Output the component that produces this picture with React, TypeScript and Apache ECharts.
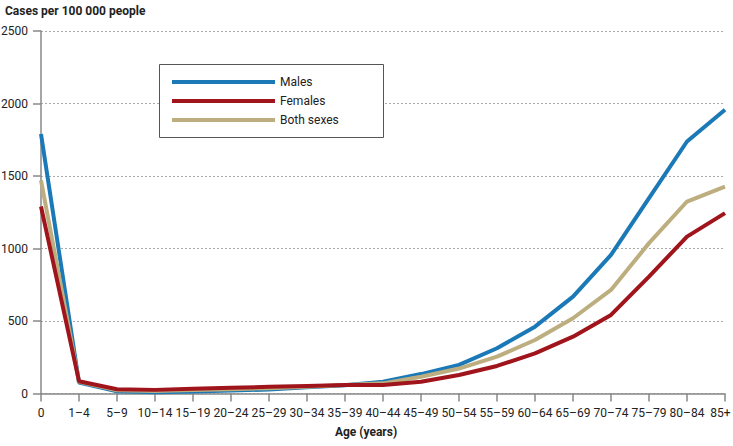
import React, { useEffect, useRef } from "react";
import * as echarts from "echarts";

const categories = ["0", "1–4", "5–9", "10–14", "15–19", "20–24", "25–29", "30–34", "35–39", "40–44", "45–49", "50–54", "55–59", "60–64", "65–69", "70–74", "75–79", "80–84", "85+"];
const males = [1790, 75, 15, 8, 14, 20, 28, 43, 57, 81, 134, 197, 312, 461, 668, 956, 1347, 1738, 1957];
const females = [1290, 85, 29, 25, 33, 40, 46, 52, 58, 59, 81, 128, 190, 277, 392, 542, 806, 1082, 1244];
const bothSexes = [1470, 80, 22, 17, 24, 30, 37, 47, 58, 70, 116, 172, 254, 369, 519, 714, 1037, 1324, 1427];
const yTicks = { min: 0, max: 2500, interval: 500 };

const FONT = 'Roboto, "Liberation Sans", sans-serif';
const BLUE = "#1a79b6";
const RED = "#a0141c";
const TAN = "#bdae7f";

export default function App() {
  const ref = useRef<HTMLDivElement>(null);
  useEffect(() => {
    document.body.style.margin = "0";
    const chart = echarts.init(ref.current!, null, { renderer: "svg" });
    const lastCat = categories[categories.length - 1];
    chart.setOption({
      animation: false,
      textStyle: { fontFamily: FONT },
      grid: { left: 41, right: 8, top: 31, bottom: 52.5, outerBoundsMode: "none", containLabel: false },
      graphic: [
        {
          type: "text",
          left: 5,
          top: 5,
          style: { text: "Cases per 100 000 people", font: `bold 12px ${FONT}`, fill: "#222" },
        },
        {
          type: "text",
          x: 366,
          y: 432,
          style: { text: "Age (years)", font: `bold 12px ${FONT}`, fill: "#222", align: "center", verticalAlign: "middle" },
        },
        {
          type: "rect",
          shape: { x: 159.5, y: 64.5, width: 224, height: 73 },
          style: { fill: "#fff", stroke: "#555", lineWidth: 1 },
          z: 10,
        },
      ],
      legend: {
        orient: "vertical",
        left: 159,
        top: 64,
        padding: [11, 10, 10, 13],
        itemWidth: 103,
        itemHeight: 4,
        itemGap: 5,
        icon: "rect",
        z: 20,
        data: ["Males", "Females", "Both sexes"],
        textStyle: { fontFamily: FONT, fontSize: 12, color: "#222", lineHeight: 14 },
      },
      xAxis: {
        type: "category",
        data: categories,
        boundaryGap: false,
        axisLine: { lineStyle: { color: "#888", width: 1.5 } },
        axisTick: { length: 8, lineStyle: { color: "#888", width: 1.5 } },
        axisLabel: {
          interval: 0,
          margin: 13,
          fontSize: 12,
          color: "#222",
          fontFamily: FONT,
          formatter: (v: string) => (v === lastCat ? `{last|${v}}` : v),
          rich: { last: { fontSize: 12, color: "#222", fontFamily: FONT, padding: [0, 9, 0, 0] } },
        },
        splitLine: { show: false },
      },
      yAxis: {
        type: "value",
        min: yTicks.min,
        max: yTicks.max,
        interval: yTicks.interval,
        axisLine: { show: true, lineStyle: { color: "#888", width: 1.5 } },
        axisTick: { show: true, length: 8, lineStyle: { color: "#888", width: 1.5 } },
        axisLabel: { margin: 13, fontSize: 12, color: "#222", fontFamily: FONT, formatter: (v: number) => String(v) },
        splitLine: { show: true, lineStyle: { color: "#aaa", type: [2, 2], width: 1 } },
      },
      series: [
        { name: "Males", type: "line", data: males, symbol: "none", lineStyle: { width: 4, color: BLUE }, itemStyle: { color: BLUE } },
        { name: "Both sexes", type: "line", data: bothSexes, symbol: "none", lineStyle: { width: 4, color: TAN }, itemStyle: { color: TAN } },
        { name: "Females", type: "line", data: females, symbol: "none", lineStyle: { width: 4, color: RED }, itemStyle: { color: RED } },
      ],
    });
    return () => chart.dispose();
  }, []);
  return <div ref={ref} style={{ width: 733, height: 446 }} />;
}
